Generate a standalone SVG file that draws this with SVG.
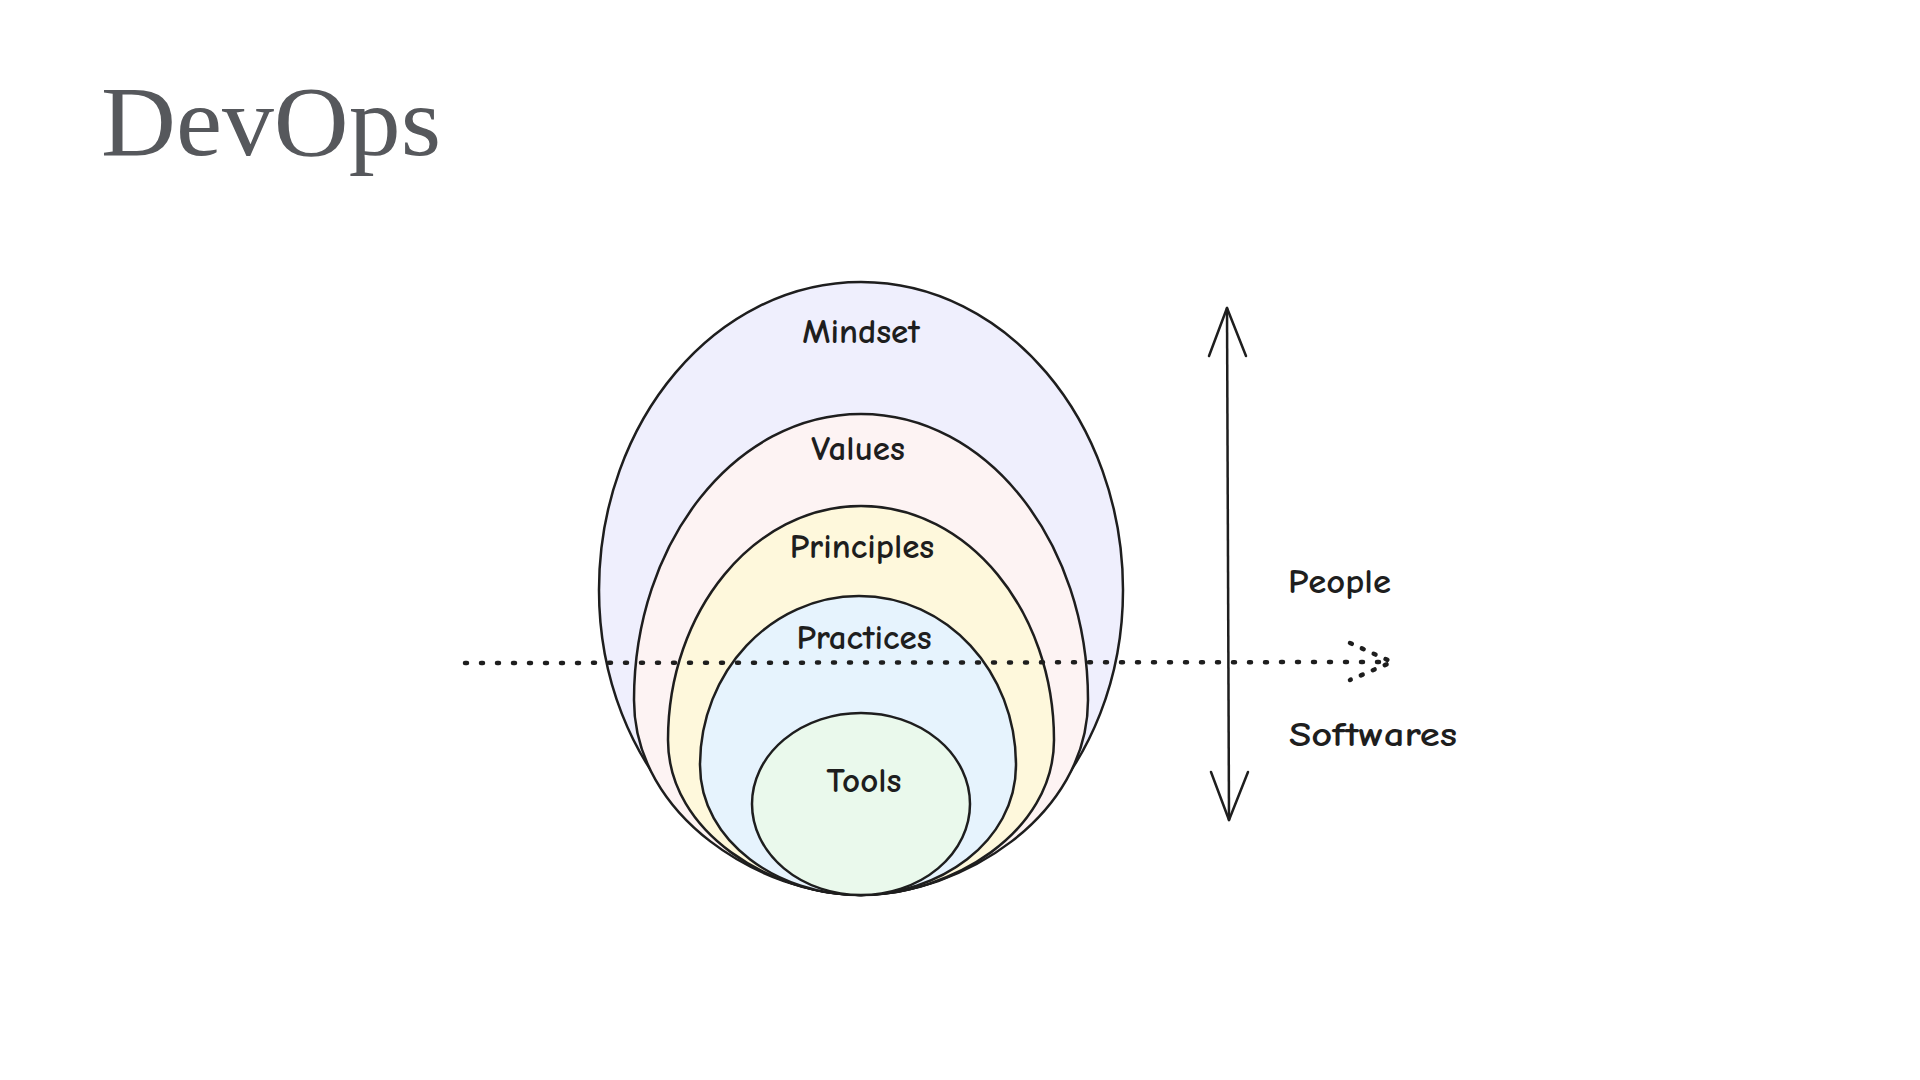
<svg xmlns="http://www.w3.org/2000/svg" width="1920" height="1080" viewBox="0 0 1920 1080">
  <style>
    .shape { stroke: #1e1e1e; stroke-width: 2.5; }
    .lbl { font-family: "Comic Neue", "Noto Sans", "DejaVu Sans", sans-serif; font-size: 35px; font-weight: 700; fill: #1e1e1e; text-anchor: middle; }
    .side { font-family: "Comic Neue", "Noto Sans", "DejaVu Sans", sans-serif; font-size: 35px; font-weight: 700; fill: #1e1e1e; }
    .solid { stroke: #1e1e1e; stroke-width: 2.5; fill: none; stroke-linecap: round; stroke-linejoin: round; }
    .dots { stroke: #1e1e1e; stroke-width: 4.5; fill: none; stroke-linecap: round; stroke-dasharray: 2 14; }
    .title { font-family: "Liberation Serif", "Times New Roman", serif; font-size: 100px; fill: #56585c; }
  </style>
  <rect width="1920" height="1080" fill="#ffffff"/>
  <text class="title" x="101" y="155" textLength="340" lengthAdjust="spacingAndGlyphs">DevOps</text>

  <g id="mindset">
    <path class="shape" fill="#efeffd" d="M861,282 C1006,282 1123,421 1123,590 C1123,770 990,895 861,895 C732,895 599,770 599,590 C599,421 716,282 861,282 Z"/>
    <text class="lbl" x="861" y="343">Mindset</text>
  </g>
  <g id="values">
    <path class="shape" fill="#fdf3f3" d="M861,414 C987,414 1088,542 1088,700 C1088,817 960,895 861,895 C762,895 634,817 634,700 C634,542 735,414 861,414 Z"/>
    <text class="lbl" x="858" y="460">Values</text>
  </g>
  <g id="principles">
    <path class="shape" fill="#fef8dc" d="M861,506 C968,506 1054,611 1054,740 C1054,833 950,895 861,895 C772,895 668,833 668,740 C668,611 754,506 861,506 Z"/>
    <text class="lbl" x="862" y="558">Principles</text>
  </g>
  <g id="practices">
    <path class="shape" fill="#e6f3fd" d="M859,596 C947,596 1016,672 1016,765 C1016,843 938,895 859,895 C780,895 700,843 700,765 C700,672 771,596 859,596 Z"/>
    <text class="lbl" x="864" y="649">Practices</text>
  </g>
  <g id="tools">
    <ellipse class="shape" fill="#eaf9ec" cx="861" cy="804" rx="109" ry="91"/>
    <text class="lbl" x="864" y="792">Tools</text>
  </g>

  <g id="connectors">
    <line class="dots" x1="465" y1="663" x2="1385" y2="662"/>
    <path class="dots" style="stroke-dasharray: 2 11" d="M1350,643 L1392,662 L1350,680"/>
    <line class="solid" x1="1227" y1="308" x2="1229" y2="820"/>
    <path class="solid" d="M1209,356 L1227,308 L1246,356"/>
    <path class="solid" d="M1211,772 L1229,820 L1248,772"/>
  </g>
  <g id="people">
    <text class="side" x="1288" y="593" textLength="103" lengthAdjust="spacingAndGlyphs">People</text>
  </g>
  <g id="softwares">
    <text class="side" x="1289" y="746" textLength="168" lengthAdjust="spacingAndGlyphs">Softwares</text>
  </g>
</svg>
